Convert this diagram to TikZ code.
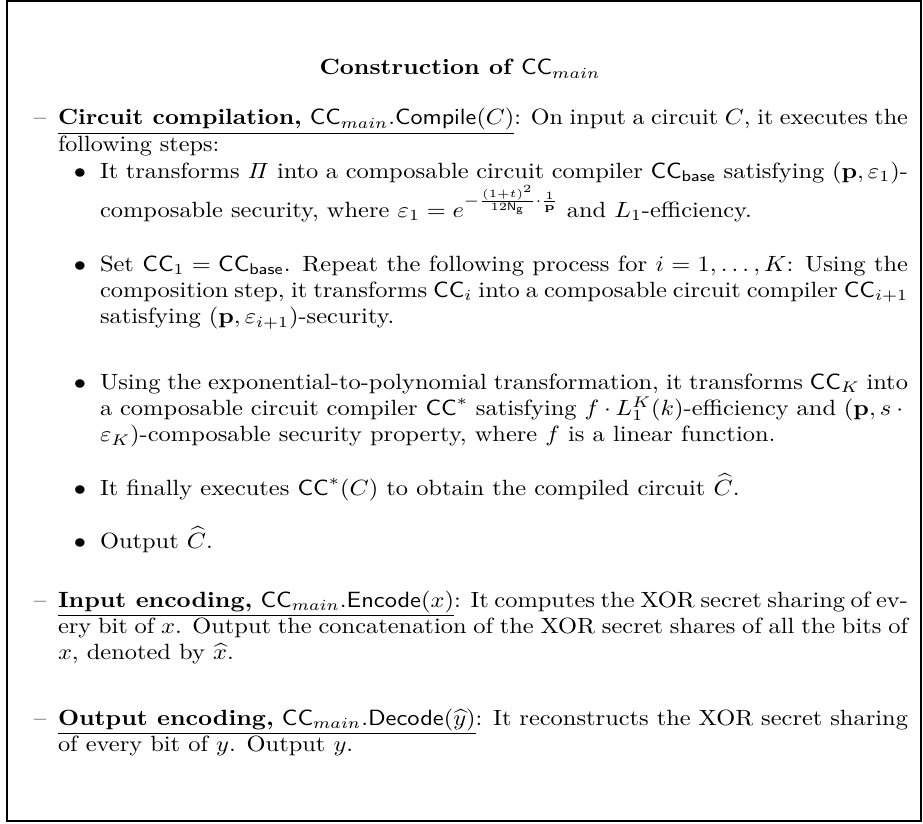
\documentclass[tikz,border=0pt]{standalone}
\usepackage{amsmath}
\newcommand{\xs}[1]{\scalebox{1.108}[1]{#1}}
\newcommand{\para}[2]{\xs{\parbox[t]{#1}{\fontsize{10}{12}\selectfont #2}}}
\begin{document}
\begin{tikzpicture}[x=0.4535pt,y=-0.4535pt,
  txt/.style={inner sep=0pt, outer sep=0pt, font=\fontsize{10}{12}\selectfont},
  para/.style={txt, anchor=base west},
  lbl/.style={txt, anchor=base}]
\useasboundingbox (0,0) rectangle (923,823);
\draw[line width=0.7pt] (7,1) rectangle (921,821);
\node[lbl] (title) at (460,75) {\xs{\textbf{Construction of $\mathsf{CC}_{main}$}}};
% Circuit compilation
\node[lbl] (d1) at (40,125) {\xs{--}};
\node[para] (p1) at (58,125) {\scalebox{1.095}[1]{\parbox[t]{352pt}{\fontsize{10}{12}\selectfont\underline{\textbf{Circuit compilation,} $\mathsf{CC}_{main}.\mathsf{Compile}(C)$}: On input a circuit $C$, it executes the\linebreak following steps:}}};
% bullets
\node[lbl] (b1) at (80,178) {\xs{$\bullet$}};
\node[para] (s1) at (100,178) {\para{330.7pt}{It transforms $\mathit{\Pi}$ into a composable circuit compiler $\mathsf{CC}_{\mathsf{base}}$ satisfying $(\mathbf{p},\varepsilon_1)$-\linebreak composable security, where $\varepsilon_1 = e^{-\frac{(1+t)^2}{12\mathsf{N}_{\mathsf{g}}}\cdot\frac{1}{\mathbf{p}}}$ and $L_1$-efficiency.}};
\node[lbl] (b2) at (80,271) {\xs{$\bullet$}};
\node[para] (s2) at (100,271) {\para{330.7pt}{Set $\mathsf{CC}_1 = \mathsf{CC}_{\mathsf{base}}$. Repeat the following process for $i=1,\ldots,K$: Using the\linebreak composition step, it transforms $\mathsf{CC}_i$ into a composable circuit compiler $\mathsf{CC}_{i+1}$\linebreak satisfying $(\mathbf{p},\varepsilon_{i+1})$-security.}};
\node[lbl] (b3) at (80,389) {\xs{$\bullet$}};
\node[para] (s3) at (100,389) {\para{330.7pt}{Using the exponential-to-polynomial transformation, it transforms $\mathsf{CC}_K$ into\linebreak a composable circuit compiler $\mathsf{CC}^*$ satisfying $f\cdot L_1^K(k)$-efficiency and $(\mathbf{p},s\cdot{}$\linebreak$\varepsilon_K)$-composable security property, where $f$ is a linear function.}};
\node[lbl] (b4) at (80,495) {\xs{$\bullet$}};
\node[para] (s4) at (100,495) {\para{330.7pt}{It finally executes $\mathsf{CC}^*(C)$ to obtain the compiled circuit $\widehat{C}$.}};
\node[lbl] (b5) at (80,548) {\xs{$\bullet$}};
\node[para] (s5) at (100,548) {\para{330.7pt}{Output $\widehat{C}$.}};
% Input encoding
\node[lbl] (d2) at (40,607) {\xs{--}};
\node[para] (p2) at (58,607) {\para{347.9pt}{\underline{\textbf{Input encoding,} $\mathsf{CC}_{main}.\mathsf{Encode}(x)$}: It computes the XOR secret sharing of ev-\linebreak ery bit of $x$. Output the concatenation of the XOR secret shares of all the bits of\linebreak $x$, denoted by $\widehat{x}$.}};
% Output encoding
\node[lbl] (d3) at (40,725) {\xs{--}};
\node[para] (p3) at (58,725) {\para{347.9pt}{\underline{\textbf{Output encoding,} $\mathsf{CC}_{main}.\mathsf{Decode}(\widehat{y})$}: It reconstructs the XOR secret sharing\linebreak of every bit of $y$. Output $y$.}};
\end{tikzpicture}
\end{document}
